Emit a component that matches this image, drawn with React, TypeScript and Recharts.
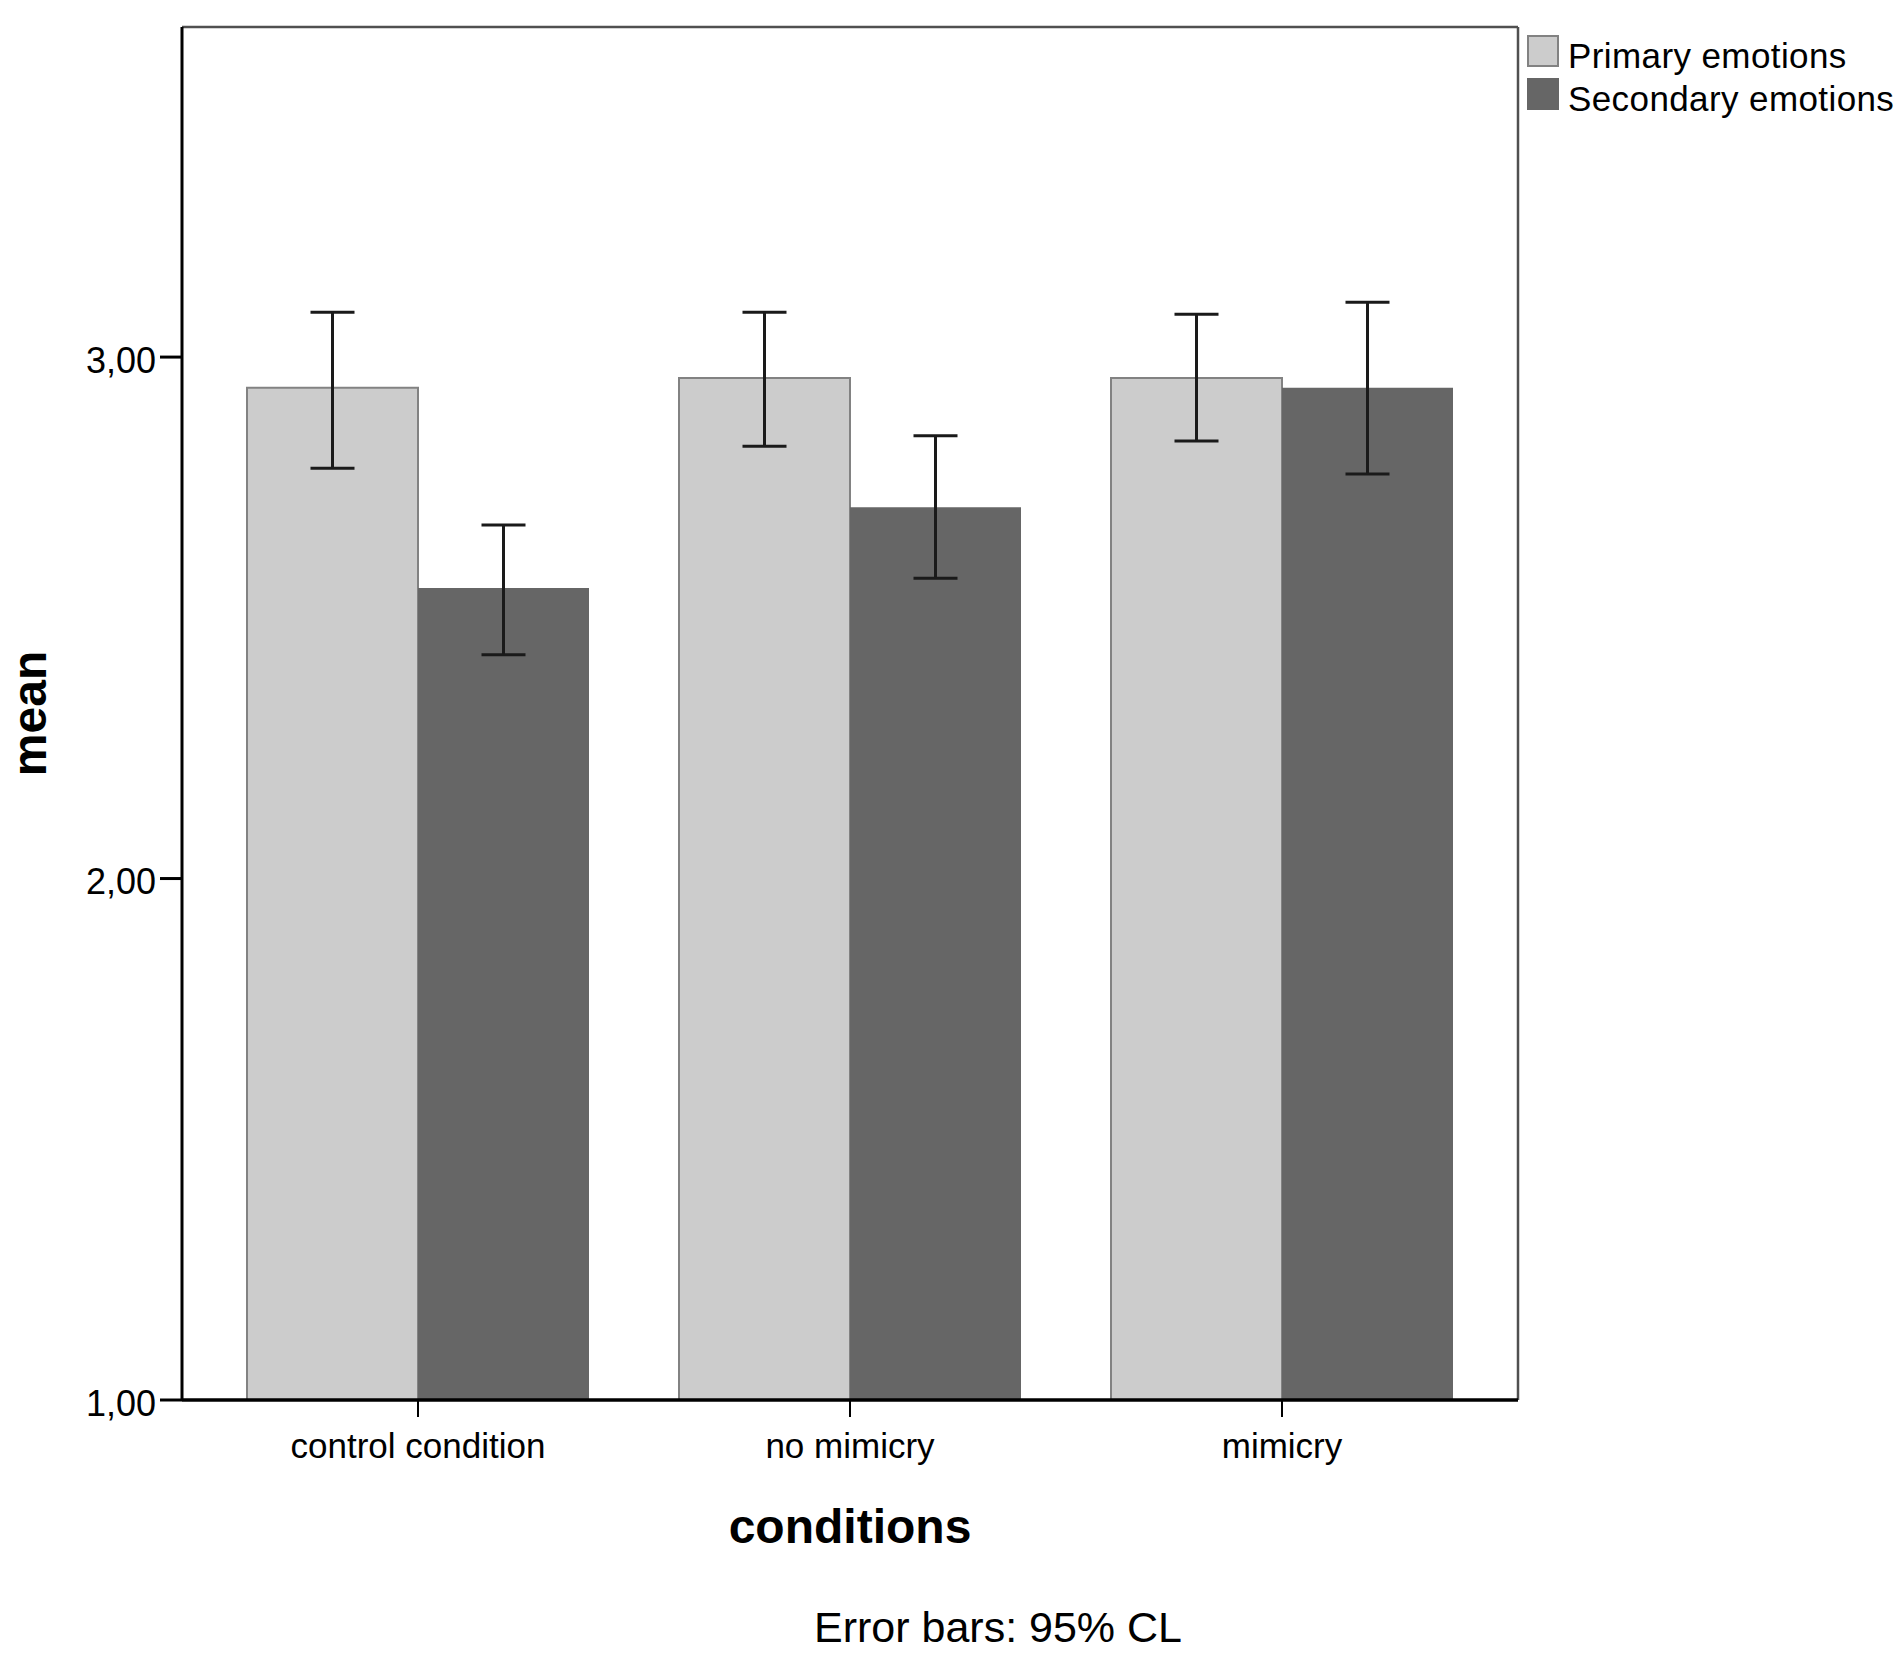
import React from 'react';
import { BarChart, Bar, XAxis, YAxis, ErrorBar, Legend, CartesianGrid, Label } from 'recharts';

const conditions = ['control condition', 'no mimicry', 'mimicry'];
const primaryMeans = [2.941, 2.96, 2.96];
const primaryLower = [2.787, 2.829, 2.839];
const primaryUpper = [3.086, 3.086, 3.082];
const secondaryMeans = [2.557, 2.712, 2.941];
const secondaryLower = [2.429, 2.576, 2.776];
const secondaryUpper = [2.678, 2.849, 3.105];
const yTicks = [1, 2, 3];
const yDomain: [number, number] = [1, 3.633];

const seriesNames = { primary: 'Primary emotions', secondary: 'Secondary emotions' };

const data = conditions.map((c, i) => ({
  condition: c,
  primary: primaryMeans[i],
  primaryErr: [primaryMeans[i] - primaryLower[i], primaryUpper[i] - primaryMeans[i]],
  secondary: secondaryMeans[i],
  secondaryErr: [secondaryMeans[i] - secondaryLower[i], secondaryUpper[i] - secondaryMeans[i]],
}));

const FONT = '"Liberation Sans", Arial, sans-serif';
const styles: Record<string, { fill: string; stroke: string }> = {
  'Primary emotions': { fill: '#cccccc', stroke: '#828282' },
  'Secondary emotions': { fill: '#666666', stroke: '#666666' },
};

const LegendContent = (props: any) => {
  const payload = props.payload || [];
  return (
    <div style={{ fontFamily: FONT, fontSize: 35, color: '#000', letterSpacing: 0.4 }}>
      {payload.map((p: any) => {
        const s = styles[p.value] || { fill: p.color, stroke: p.color };
        return (
          <div key={p.value} style={{ display: 'flex', alignItems: 'flex-start', height: 43, lineHeight: '43px', whiteSpace: 'nowrap' }}>
            <div style={{ width: 28, height: 28, background: s.fill, border: `2px solid ${s.stroke}`, marginRight: 9, marginTop: 2 }} />
            <span style={{ marginTop: 1 }}>{p.value}</span>
          </div>
        );
      })}
    </div>
  );
};

export default function App() {
  return (
    <div style={{ position: 'absolute', left: 0, top: 0, width: 1904, height: 1664, background: '#fff' }}>
      <BarChart
        width={1904}
        height={1664}
        data={data}
        margin={{ top: 27, right: 386, bottom: 0, left: 0 }}
        barCategoryGap={45}
        barGap={0}
      >
        <CartesianGrid
          stroke="#505050"
          strokeWidth={2.5}
          horizontalCoordinatesGenerator={(p: any) => [p.offset.top]}
          verticalCoordinatesGenerator={(p: any) => [p.offset.left + p.offset.width]}
        />
        <XAxis
          dataKey="condition"
          type="category"
          padding={{ left: 20, right: 20 }}
          height={264}
          tickSize={17}
          tickMargin={16}
          axisLine={{ stroke: '#000', strokeWidth: 3.5 }}
          tickLine={{ stroke: '#000', strokeWidth: 2 }}
          tick={{ fill: '#000', fontSize: 35, fontFamily: FONT }}
        >
          <Label
            value="conditions"
            content={(p: any) => {
              const vb = p.viewBox || { x: 0, y: 1400, width: 1336 };
              return (
                <g>
                  <text x={vb.x + vb.width / 2} y={vb.y + 126} textAnchor="middle" dominantBaseline="central" fontFamily={FONT} fontSize={48} fontWeight="bold" fill="#000">
                    conditions
                  </text>
                  <text x={998} y={vb.y + 227} textAnchor="middle" dominantBaseline="central" fontFamily={FONT} fontSize={43} fill="#000">
                    Error bars: 95% CL
                  </text>
                </g>
              );
            }}
          />
        </XAxis>
        <YAxis
          type="number"
          domain={yDomain}
          allowDataOverflow
          ticks={yTicks}
          width={182}
          tickSize={22}
          tickMargin={4}
          tickFormatter={(v: number) => v.toFixed(2).replace('.', ',')}
          axisLine={{ stroke: '#000', strokeWidth: 3 }}
          tickLine={{ stroke: '#000', strokeWidth: 3 }}
          tick={{ fill: '#000', fontSize: 36, fontFamily: FONT, dy: 3 }}
        >
          <Label
            value="mean"
            content={(p: any) => {
              const vb = p.viewBox || { x: 0, y: 27, width: 182, height: 1373 };
              const cy = vb.y + vb.height / 2;
              return (
                <text x={29} y={cy} transform={`rotate(-90, 29, ${cy})`} textAnchor="middle" dominantBaseline="central" fontFamily={FONT} fontSize={48} fontWeight="bold" fill="#000">
                  mean
                </text>
              );
            }}
          />
        </YAxis>
        <Legend
          layout="vertical"
          align="center"
          verticalAlign="middle"
          content={<LegendContent />}
          wrapperStyle={{ left: 1527, top: 33, width: 377, height: 100 }}
        />
        <Bar dataKey="primary" name={seriesNames.primary} fill="#cccccc" stroke="#828282" strokeWidth={2} isAnimationActive={false}>
          <ErrorBar dataKey="primaryErr" direction="y" width={22} stroke="#1a1a1a" strokeWidth={3} isAnimationActive={false} />
        </Bar>
        <Bar dataKey="secondary" name={seriesNames.secondary} fill="#666666" isAnimationActive={false}>
          <ErrorBar dataKey="secondaryErr" direction="y" width={22} stroke="#1a1a1a" strokeWidth={3} isAnimationActive={false} />
        </Bar>
      </BarChart>
    </div>
  );
}
